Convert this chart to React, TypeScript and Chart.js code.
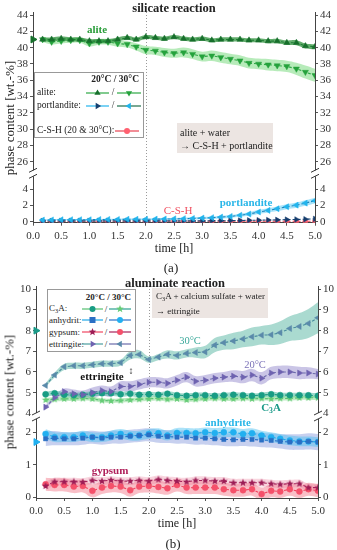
import React, { useEffect, useRef } from "react";
import { Chart, registerables } from "chart.js";
Chart.register(...registerables);

const FONT = "'Liberation Serif', 'Times New Roman', serif";

// ---------- shared ----------
const TIME = [0.17, 0.33, 0.5, 0.67, 0.83, 1.0, 1.17, 1.33, 1.5, 1.67, 1.83, 2.0, 2.17, 2.33, 2.5, 2.67, 2.83, 3.0, 3.17, 3.33, 3.5, 3.67, 3.83, 4.0, 4.17, 4.33, 4.5, 4.67, 4.83, 5.0];
const X_TICKS = [0, 0.5, 1, 1.5, 2, 2.5, 3, 3.5, 4, 4.5, 5];
const MARK_TIME = 2.0;

// ---------- panel (a) silicate reaction ----------
const A_TOP_TICKS = [26, 28, 30, 32, 34, 36, 38, 40, 42, 44];
const A_BOT_TICKS = [0, 2, 4];
const ALITE_20 = [41.0, 41.0, 41.1, 41.0, 41.0, 40.8, 40.8, 40.8, 41.0, 41.2, 41.0, 41.3, 41.2, 41.1, 41.3, 41.1, 41.0, 41.1, 40.9, 41.0, 41.0, 41.0, 40.9, 40.9, 40.8, 40.8, 40.6, 40.6, 40.2, 40.1];
const ALITE_20_ERR = [0.25, 0.25, 0.25, 0.25, 0.25, 0.25, 0.25, 0.25, 0.25, 0.25, 0.25, 0.25, 0.25, 0.25, 0.25, 0.25, 0.25, 0.25, 0.25, 0.25, 0.25, 0.25, 0.25, 0.25, 0.25, 0.27, 0.28, 0.3, 0.3, 0.3];
const ALITE_30 = [41.0, 40.7, 40.8, 40.9, 40.9, 40.5, 40.7, 40.7, 40.5, 40.4, 40.1, 39.7, 39.6, 39.4, 39.3, 39.4, 39.2, 38.9, 39.0, 38.8, 38.6, 38.4, 38.1, 38.0, 37.9, 37.8, 37.7, 37.4, 37.0, 36.6];
const ALITE_30_ERR = [0.3, 0.3, 0.3, 0.3, 0.3, 0.35, 0.35, 0.35, 0.4, 0.4, 0.45, 0.5, 0.5, 0.55, 0.55, 0.6, 0.6, 0.6, 0.65, 0.65, 0.65, 0.65, 0.65, 0.65, 0.7, 0.7, 0.7, 0.75, 0.8, 0.8];
const PORT_30 = [0.2, 0.22, 0.25, 0.25, 0.25, 0.25, 0.27, 0.28, 0.28, 0.3, 0.3, 0.3, 0.32, 0.33, 0.35, 0.37, 0.4, 0.45, 0.5, 0.57, 0.65, 0.8, 0.95, 1.2, 1.4, 1.6, 1.85, 2.05, 2.3, 2.6];
const PORT_30_ERR = [0.08, 0.08, 0.08, 0.08, 0.08, 0.08, 0.08, 0.1, 0.1, 0.1, 0.1, 0.1, 0.12, 0.12, 0.12, 0.12, 0.14, 0.15, 0.15, 0.17, 0.18, 0.2, 0.22, 0.24, 0.26, 0.28, 0.3, 0.32, 0.34, 0.36];
const PORT_20 = [0.1, 0.1, 0.1, 0.1, 0.1, 0.1, 0.1, 0.1, 0.1, 0.1, 0.1, 0.1, 0.1, 0.1, 0.1, 0.1, 0.1, 0.1, 0.12, 0.12, 0.14, 0.15, 0.17, 0.19, 0.21, 0.23, 0.26, 0.28, 0.31, 0.35];
const CSH = [0.05, 0.05, 0.06, 0.05, 0.05, 0.05, 0.06, 0.05, 0.05, 0.05, 0.05, 0.06, 0.05, 0.05, 0.05, 0.05, 0.06, 0.05, 0.05, 0.05, 0.05, 0.05, 0.05, 0.06, 0.05, 0.05, 0.05, 0.05, 0.05, 0.05];
const ALITE_START = 41.0;

// ---------- panel (b) aluminate reaction ----------
const B_TOP_TICKS = [4, 5, 6, 7, 8, 9, 10];
const B_BOT_TICKS = [0, 1, 2];
const ETT_30 = [5.35, 5.85, 6.25, 6.3, 6.3, 6.35, 6.4, 6.4, 6.45, 6.8, 6.85, 6.6, 6.72, 6.85, 6.8, 6.9, 6.94, 6.97, 7.3, 7.42, 7.5, 7.6, 7.7, 7.78, 7.8, 7.9, 8.1, 8.2, 8.35, 8.62];
const ETT_30_ERR = [0.1, 0.12, 0.15, 0.15, 0.15, 0.15, 0.15, 0.15, 0.15, 0.2, 0.2, 0.15, 0.15, 0.2, 0.2, 0.2, 0.25, 0.3, 0.35, 0.35, 0.4, 0.4, 0.45, 0.45, 0.5, 0.55, 0.6, 0.65, 0.7, 0.75];
const ETT_20 = [4.3, 4.75, 5.05, 4.95, 4.9, 5.0, 5.1, 5.05, 5.3, 5.3, 5.4, 5.5, 5.5, 5.45, 5.6, 5.75, 5.55, 5.6, 5.7, 5.75, 5.8, 5.75, 5.85, 5.7, 5.95, 6.0, 6.0, 5.95, 5.95, 5.9];
const ETT_20_ERR = [0.1, 0.12, 0.15, 0.2, 0.2, 0.25, 0.25, 0.25, 0.25, 0.25, 0.25, 0.25, 0.25, 0.25, 0.25, 0.25, 0.25, 0.25, 0.25, 0.25, 0.28, 0.3, 0.3, 0.3, 0.3, 0.3, 0.3, 0.3, 0.28, 0.25];
const C3A_20 = [4.92, 4.97, 4.9, 4.88, 4.9, 4.95, 4.97, 4.97, 4.92, 4.95, 4.9, 4.92, 4.9, 4.95, 4.88, 4.85, 4.88, 4.88, 4.85, 4.88, 4.9, 4.88, 4.85, 4.88, 4.92, 4.88, 4.88, 4.88, 4.87, 4.85];
const C3A_20_ERR = [0.12, 0.12, 0.12, 0.12, 0.12, 0.12, 0.12, 0.12, 0.12, 0.12, 0.12, 0.12, 0.12, 0.12, 0.12, 0.12, 0.12, 0.12, 0.12, 0.12, 0.12, 0.12, 0.12, 0.12, 0.12, 0.12, 0.12, 0.12, 0.12, 0.12];
const C3A_30 = [4.65, 4.68, 4.7, 4.7, 4.72, 4.7, 4.62, 4.6, 4.62, 4.65, 4.68, 4.7, 4.72, 4.68, 4.7, 4.65, 4.68, 4.7, 4.72, 4.7, 4.7, 4.72, 4.7, 4.72, 4.7, 4.72, 4.72, 4.75, 4.75, 4.75];
const C3A_30_ERR = [0.1, 0.1, 0.1, 0.1, 0.1, 0.1, 0.1, 0.1, 0.1, 0.1, 0.1, 0.1, 0.1, 0.1, 0.1, 0.1, 0.1, 0.1, 0.1, 0.1, 0.1, 0.1, 0.1, 0.1, 0.1, 0.1, 0.1, 0.1, 0.1, 0.1];
const ANH_20 = [1.8, 1.82, 1.8, 1.8, 1.82, 1.85, 1.82, 1.85, 1.85, 1.88, 1.9, 1.92, 1.88, 1.87, 1.85, 1.85, 1.82, 1.82, 1.8, 1.78, 1.77, 1.78, 1.78, 1.76, 1.75, 1.72, 1.7, 1.7, 1.72, 1.7];
const ANH_20_ERR = [0.22, 0.22, 0.2, 0.2, 0.2, 0.2, 0.2, 0.2, 0.2, 0.2, 0.2, 0.2, 0.2, 0.2, 0.2, 0.2, 0.2, 0.2, 0.2, 0.2, 0.2, 0.2, 0.22, 0.22, 0.22, 0.22, 0.24, 0.24, 0.25, 0.25];
const ANH_30 = [1.95, 1.85, 1.85, 1.85, 1.9, 1.85, 1.85, 1.9, 1.95, 1.9, 1.9, 1.95, 1.97, 1.9, 1.98, 1.98, 1.97, 2.0, 1.98, 2.0, 2.0, 1.95, 1.97, 1.9, 1.85, 1.8, 1.75, 1.72, 1.72, 1.7];
const ANH_30_ERR = [0.15, 0.15, 0.15, 0.15, 0.15, 0.15, 0.15, 0.15, 0.15, 0.15, 0.15, 0.15, 0.15, 0.15, 0.15, 0.15, 0.15, 0.15, 0.15, 0.15, 0.15, 0.15, 0.15, 0.15, 0.15, 0.15, 0.15, 0.15, 0.15, 0.15];
const GYP_20 = [0.35, 0.48, 0.48, 0.48, 0.47, 0.52, 0.5, 0.53, 0.5, 0.5, 0.52, 0.5, 0.55, 0.52, 0.5, 0.48, 0.52, 0.52, 0.5, 0.5, 0.45, 0.45, 0.45, 0.45, 0.42, 0.4, 0.42, 0.42, 0.3, 0.3];
const GYP_20_ERR = [0.12, 0.12, 0.12, 0.12, 0.12, 0.12, 0.12, 0.12, 0.12, 0.12, 0.12, 0.12, 0.12, 0.12, 0.12, 0.12, 0.12, 0.12, 0.12, 0.12, 0.12, 0.12, 0.12, 0.12, 0.12, 0.12, 0.12, 0.12, 0.12, 0.12];
const GYP_30 = [0.4, 0.38, 0.38, 0.33, 0.35, 0.2, 0.3, 0.35, 0.33, 0.22, 0.33, 0.35, 0.32, 0.28, 0.38, 0.3, 0.3, 0.3, 0.3, 0.25, 0.22, 0.22, 0.25, 0.1, 0.2, 0.18, 0.25, 0.18, 0.25, 0.2];
const GYP_30_ERR = [0.2, 0.2, 0.2, 0.2, 0.2, 0.2, 0.2, 0.2, 0.2, 0.2, 0.2, 0.2, 0.2, 0.2, 0.2, 0.2, 0.2, 0.2, 0.2, 0.2, 0.2, 0.2, 0.2, 0.2, 0.2, 0.2, 0.2, 0.2, 0.2, 0.2];
const ETT_START = 8.0;
const ANH_START = 1.7;

// ---------- helpers ----------
function starCanvas(color: string, r: number) {
  const c = document.createElement("canvas");
  const s = Math.ceil(r * 2 + 2);
  c.width = s; c.height = s;
  const g = c.getContext("2d")!;
  g.fillStyle = color;
  g.beginPath();
  for (let i = 0; i < 10; i++) {
    const rad = i % 2 === 0 ? r : r * 0.42;
    const a = -Math.PI / 2 + (i * Math.PI) / 5;
    const px = s / 2 + rad * Math.cos(a);
    const py = s / 2 + rad * Math.sin(a);
    if (i) g.lineTo(px, py); else g.moveTo(px, py);
  }
  g.closePath();
  g.fill();
  return c;
}

function band(vals: number[], err: number[], color: string, yAxisID: string, order: number) {
  return [
    { data: TIME.map((t, i) => ({ x: t, y: vals[i] + err[i] })), borderWidth: 0, pointRadius: 0, fill: false, tension: 0.4, yAxisID, order },
    { data: TIME.map((t, i) => ({ x: t, y: vals[i] - err[i] })), borderWidth: 0, pointRadius: 0, fill: "-1", backgroundColor: color, tension: 0.4, yAxisID, order },
  ];
}

function line(vals: number[], lineColor: string, markerColor: string, style: any, rotation: number, radius: number, yAxisID: string) {
  return {
    data: TIME.map((t, i) => ({ x: t, y: vals[i] })),
    borderColor: lineColor,
    borderWidth: 1.1,
    borderDash: [3, 2],
    pointStyle: style,
    rotation,
    pointRadius: radius,
    pointBackgroundColor: markerColor,
    pointBorderColor: markerColor,
    pointBorderWidth: 0.5,
    fill: false,
    tension: 0,
    yAxisID,
    order: 0,
  };
}

function lone(y: number, color: string, yAxisID: string) {
  return {
    data: [{ x: 0, y }],
    showLine: false,
    pointStyle: "triangle",
    rotation: 90,
    pointRadius: 4,
    pointBackgroundColor: color,
    pointBorderColor: color,
    clip: false,
    yAxisID,
    order: 0,
  };
}

const tickFont = { family: FONT, size: 11 };

function yAxis(min: number, max: number, ticks: number[], stack: string, position: string, weight: number, stackWeight: number, width: number) {
  return {
    type: "linear",
    position,
    stack,
    weight,
    stackWeight,
    min,
    max,
    afterBuildTicks: (s: any) => { s.ticks = ticks.map((v) => ({ value: v })); },
    afterFit: (s: any) => { s.width = width; },
    grid: { drawOnChartArea: false, drawTicks: true, tickLength: 3, color: "#555", tickColor: "#555" },
    border: { display: true, color: "#444", width: 1 },
    ticks: { font: tickFont, color: "#333", padding: 2, autoSkip: false, callback: (v: any) => String(v) },
  };
}

function xAxis(height: number) {
  return {
    type: "linear",
    position: "bottom",
    min: 0,
    max: 5,
    afterBuildTicks: (s: any) => { s.ticks = X_TICKS.map((v) => ({ value: v })); },
    afterFit: (s: any) => { s.height = height; },
    grid: { drawOnChartArea: false, drawTicks: true, tickLength: 3, color: "#555", tickColor: "#555" },
    border: { display: true, color: "#444", width: 1 },
    ticks: { font: tickFont, color: "#333", padding: 4, maxRotation: 0, autoSkip: false, callback: (v: any) => Number(v).toFixed(1) },
  };
}

const decoPlugin = {
  id: "deco",
  beforeDatasetsDraw(chart: any) {
    const { ctx, chartArea, scales } = chart;
    const x = Math.round(scales.x.getPixelForValue(MARK_TIME)) + 0.5;
    ctx.save();
    ctx.strokeStyle = "#9a9a9a";
    ctx.lineWidth = 1;
    ctx.setLineDash([1, 2]);
    ctx.beginPath();
    ctx.moveTo(x, chartArea.top);
    ctx.lineTo(x, chartArea.bottom);
    ctx.stroke();
    ctx.restore();
  },
  afterDraw(chart: any) {
    const { ctx, chartArea, scales } = chart;
    const yb = scales.yTop.bottom;
    for (const x of [chartArea.left, chartArea.right]) {
      ctx.save();
      ctx.fillStyle = "#fff";
      ctx.fillRect(x - 5, yb - 3, 10, 6);
      ctx.strokeStyle = "#333";
      ctx.lineWidth = 1;
      ctx.beginPath();
      ctx.moveTo(x - 4, yb - 1); ctx.lineTo(x + 4, yb - 5);
      ctx.moveTo(x - 4, yb + 5); ctx.lineTo(x + 4, yb + 1);
      ctx.stroke();
      ctx.restore();
    }
  },
};

function baseOptions(padTop: number, scales: any) {
  return {
    responsive: false,
    maintainAspectRatio: false,
    animation: false,
    devicePixelRatio: 1,
    layout: { padding: { top: padTop, left: 0, right: 0, bottom: 0 } },
    plugins: { legend: { display: false }, tooltip: { enabled: false }, title: { display: false } },
    scales,
  };
}

function configA() {
  const datasets: any[] = [
    ...band(ALITE_30, ALITE_30_ERR, "rgba(135,222,140,0.6)", "yTop", 12),
    ...band(ALITE_20, ALITE_20_ERR, "rgba(60,152,72,0.8)", "yTop", 11),
    ...band(PORT_30, PORT_30_ERR, "rgba(110,208,245,0.6)", "yBot", 11),
    line(ALITE_20, "#1e7e34", "#176f2c", "triangle", 0, 3.5, "yTop"),
    line(ALITE_30, "#2ca844", "#25a23c", "triangle", 180, 3.5, "yTop"),
    line(PORT_30, "#1a7fb8", "#22b4ec", "triangle", 270, 3.5, "yBot"),
    line(PORT_20, "#1a4a7a", "#163e6e", "triangle", 90, 3.2, "yBot"),
    line(CSH, "#e84050", "#ff6070", "circle", 0, 2.5, "yBot"),
    lone(ALITE_START, "#176f2c", "yTop"),
  ];
  return {
    type: "line",
    data: { datasets },
    options: baseOptions(12, {
      x: xAxis(27.3),
      yTop: yAxis(24.58, 44.37, A_TOP_TICKS, "L", "left", 2, 161.3, 33),
      yBot: yAxis(-0.12, 5.98, A_BOT_TICKS, "L", "left", 1, 49.4, 33),
      yTopR: yAxis(24.58, 44.37, A_TOP_TICKS, "R", "right", 1, 161.3, 22),
      yBotR: yAxis(-0.12, 5.98, A_BOT_TICKS, "R", "right", 2, 49.4, 22),
    }),
    plugins: [decoPlugin],
  };
}

function configB() {
  const datasets: any[] = [
    ...band(ETT_30, ETT_30_ERR, "rgba(85,182,162,0.5)", "yTop", 12),
    ...band(ETT_20, ETT_20_ERR, "rgba(150,140,205,0.5)", "yTop", 12),
    ...band(C3A_30, C3A_30_ERR, "rgba(125,215,135,0.5)", "yTop", 11),
    ...band(C3A_20, C3A_20_ERR, "rgba(40,170,140,0.45)", "yTop", 11),
    ...band(ANH_20, ANH_20_ERR, "rgba(130,150,220,0.45)", "yBot", 12),
    ...band(ANH_30, ANH_30_ERR, "rgba(70,190,240,0.45)", "yBot", 11),
    ...band(GYP_30, GYP_30_ERR, "rgba(240,95,115,0.4)", "yBot", 12),
    ...band(GYP_20, GYP_20_ERR, "rgba(235,120,150,0.3)", "yBot", 11),
    line(ETT_30, "#4a8c9e", "#5a8aaa", "triangle", 270, 3.5, "yTop"),
    line(ETT_20, "#6a6aaa", "#6e62b0", "triangle", 90, 3.5, "yTop"),
    line(C3A_20, "#1a9a80", "#189c84", "circle", 0, 3, "yTop"),
    line(C3A_30, "#55c070", "#66cc77", starCanvas("#66cc77", 4), 0, 4, "yTop"),
    line(ANH_20, "#2a70c8", "#2b6fc4", "rect", 0, 3, "yBot"),
    line(ANH_30, "#1fa8e8", "#22b0f0", "circle", 0, 3, "yBot"),
    line(GYP_20, "#a8205a", "#9c1c55", starCanvas("#9c1c55", 4), 0, 4, "yBot"),
    line(GYP_30, "#f04560", "#f5506a", "circle", 0, 3, "yBot"),
    lone(ETT_START, "#1a9a88", "yTop"),
    lone(ANH_START, "#22b0f0", "yBot"),
  ];
  return {
    type: "line",
    data: { datasets },
    options: baseOptions(16, {
      x: xAxis(22),
      yTop: yAxis(3.87, 10.16, B_TOP_TICKS, "L", "left", 2, 130, 36),
      yBot: yAxis(-0.02, 2.5, B_BOT_TICKS, "L", "left", 1, 82, 36),
      yTopR: yAxis(3.87, 10.16, B_TOP_TICKS, "R", "right", 1, 130, 19),
      yBotR: yAxis(-0.02, 2.5, B_BOT_TICKS, "R", "right", 2, 82, 19),
    }),
    plugins: [decoPlugin],
  };
}

function PanelChart({ top, height, config }: { top: number; height: number; config: () => any }) {
  const ref = useRef<HTMLCanvasElement | null>(null);
  useEffect(() => {
    const chart = new Chart(ref.current as HTMLCanvasElement, config());
    return () => chart.destroy();
  }, []);
  return <canvas ref={ref} width={337} height={height} style={{ position: "absolute", left: 0, top, width: 337, height }} />;
}

// ---------- overlay helpers ----------
function T({ x, y, children, style, left }: any) {
  return (
    <div style={{ position: "absolute", left: x, top: y, transform: left ? "translate(0,-50%)" : "translate(-50%,-50%)", whiteSpace: "nowrap", lineHeight: 1, ...style }}>
      {children}
    </div>
  );
}

function Shape({ shape, color, cx, cy }: any) {
  const r = 3.6;
  if (shape === "circle") return <circle cx={cx} cy={cy} r={3} fill={color} />;
  if (shape === "square") return <rect x={cx - 3} y={cy - 3} width={6} height={6} fill={color} />;
  if (shape === "star") {
    const pts: string[] = [];
    for (let i = 0; i < 10; i++) {
      const rad = i % 2 === 0 ? 4 : 1.7;
      const a = -Math.PI / 2 + (i * Math.PI) / 5;
      pts.push(`${cx + rad * Math.cos(a)},${cy + rad * Math.sin(a)}`);
    }
    return <polygon points={pts.join(" ")} fill={color} />;
  }
  const rot = shape === "up" ? 0 : shape === "down" ? 180 : shape === "right" ? 90 : 270;
  const p = `${cx},${cy - r} ${cx + r * 0.87},${cy + r * 0.5} ${cx - r * 0.87},${cy + r * 0.5}`;
  return <polygon points={p} fill={color} transform={`rotate(${rot} ${cx} ${cy})`} />;
}

function Sym({ x, y, w, line: lc, marker, shape }: any) {
  return (
    <svg style={{ position: "absolute", left: x, top: y - 5 }} width={w} height={10}>
      <line x1={0} y1={5} x2={w} y2={5} stroke={lc} strokeWidth={1.2} />
      <Shape shape={shape} color={marker} cx={w / 2} cy={5} />
    </svg>
  );
}

const sub3 = <span style={{ fontSize: "0.7em", verticalAlign: "-0.25em" }}>3</span>;

export default function App() {
  const lg = { fontSize: 9.5 };
  const lg2 = { fontSize: 9 };
  return (
    <div style={{ position: "absolute", left: 0, top: 0, width: 337, height: 550, background: "#fff", overflow: "hidden", fontFamily: FONT, color: "#222" }}>
      <PanelChart top={0} height={250} config={configA} />
      <PanelChart top={270} height={250} config={configB} />

      {/* ----- panel (a) overlays ----- */}
      <T x={174} y={8} style={{ fontWeight: "bold", fontSize: 12.5 }}>silicate reaction</T>
      <T x={9} y={118} style={{ fontSize: 13, transform: "translate(-50%,-50%) rotate(-90deg)" }}>phase content [wt.-%]</T>
      <T x={174} y={248} style={{ fontSize: 12 }}>time [h]</T>
      <T x={171} y={267} style={{ fontSize: 13 }}>(a)</T>
      <T x={97} y={29} style={{ fontSize: 11, fontWeight: "bold", color: "#2a9d3a" }}>alite</T>
      <T x={178} y={210} style={{ fontSize: 11, color: "#f05060" }}>C-S-H</T>
      <T x={246} y={202} style={{ fontSize: 11, fontWeight: "bold", color: "#29b6e8" }}>portlandite</T>

      <div style={{ position: "absolute", left: 34, top: 72, width: 110, height: 66, border: "1px solid #999", background: "#fff", boxSizing: "border-box" }} />
      <T x={139} y={80} style={{ ...lg, fontWeight: "bold", transform: "translate(-100%,-50%)" }}>20°C / 30°C</T>
      <T x={37} y={93} left style={lg}>alite:</T>
      <T x={37} y={106} left style={lg}>portlandite:</T>
      <T x={37} y={131} left style={lg}>C-S-H (20 &amp; 30°C):</T>
      <Sym x={86} y={93} w={23} line="#2ca844" marker="#176f2c" shape="up" />
      <T x={113} y={93} style={lg}>/</T>
      <Sym x={117} y={93} w={24} line="#2ca844" marker="#25a23c" shape="down" />
      <Sym x={86} y={106} w={23} line="#22b4ec" marker="#163e6e" shape="right" />
      <T x={113} y={106} style={lg}>/</T>
      <Sym x={117} y={106} w={24} line="#1e6e4a" marker="#22b4ec" shape="left" />
      <Sym x={115} y={131} w={24} line="#e84050" marker="#ff6070" shape="circle" />

      <div style={{ position: "absolute", left: 177, top: 123, width: 96, height: 30, background: "#ece5e2" }} />
      <T x={180} y={133} left style={{ fontSize: 10 }}>alite + water</T>
      <T x={180} y={146} left style={{ fontSize: 10 }}>→ C-S-H + portlandite</T>

      {/* ----- panel (b) overlays ----- */}
      <T x={175} y={283} style={{ fontWeight: "bold", fontSize: 12.5 }}>aluminate reaction</T>
      <T x={9} y={392} style={{ fontSize: 13, transform: "translate(-50%,-50%) rotate(-90deg)" }}>phase content [wt.-%]</T>
      <T x={177} y={523} style={{ fontSize: 12 }}>time [h]</T>
      <T x={173} y={543} style={{ fontSize: 13 }}>(b)</T>
      <T x={190} y={341} style={{ fontSize: 10.5, color: "#3aa89a" }}>30°C</T>
      <T x={255} y={365} style={{ fontSize: 10.5, color: "#7b72b8" }}>20°C</T>
      <T x={102} y={376} style={{ fontSize: 11, fontWeight: "bold", color: "#111" }}>ettringite</T>
      <T x={131} y={371} style={{ fontSize: 10 }}>↕</T>
      <T x={271} y={408} style={{ fontSize: 11, fontWeight: "bold", color: "#1a9a88" }}>C{sub3}A</T>
      <T x={228} y={422} style={{ fontSize: 11, fontWeight: "bold", color: "#29b6e8" }}>anhydrite</T>
      <T x={110} y={470} style={{ fontSize: 11, fontWeight: "bold", color: "#b0205a" }}>gypsum</T>

      <div style={{ position: "absolute", left: 47, top: 289, width: 89, height: 63, border: "1px solid #999", background: "#fff", boxSizing: "border-box" }} />
      <T x={131} y={297} style={{ ...lg2, fontWeight: "bold", transform: "translate(-100%,-50%)" }}>20°C / 30°C</T>
      <T x={49} y={309} left style={lg2}>C{sub3}A:</T>
      <T x={49} y={320} left style={lg2}>anhydrit:</T>
      <T x={49} y={331.5} left style={lg2}>gypsum:</T>
      <T x={49} y={343.5} left style={lg2}>ettringite:</T>
      <Sym x={82} y={309} w={21} line="#55c070" marker="#189c84" shape="circle" />
      <T x={106} y={309} style={lg2}>/</T>
      <Sym x={109} y={309} w={22} line="#2aa090" marker="#66cc77" shape="star" />
      <Sym x={82} y={320} w={21} line="#1fa8e8" marker="#2b6fc4" shape="square" />
      <T x={106} y={320} style={lg2}>/</T>
      <Sym x={109} y={320} w={22} line="#2a70c8" marker="#22b0f0" shape="circle" />
      <Sym x={82} y={331.5} w={21} line="#f04560" marker="#9c1c55" shape="star" />
      <T x={106} y={331.5} style={lg2}>/</T>
      <Sym x={109} y={331.5} w={22} line="#a8205a" marker="#f5506a" shape="circle" />
      <Sym x={82} y={343.5} w={21} line="#4a9c9e" marker="#6e62b0" shape="right" />
      <T x={106} y={343.5} style={lg2}>/</T>
      <Sym x={109} y={343.5} w={22} line="#6a6aaa" marker="#5a8aaa" shape="left" />

      <div style={{ position: "absolute", left: 152, top: 288, width: 116, height: 30, background: "#ece5e2" }} />
      <T x={156} y={297} left style={lg2}>C{sub3}A + calcium sulfate + water</T>
      <T x={156} y={311} left style={lg2}>→ ettringite</T>
    </div>
  );
}
